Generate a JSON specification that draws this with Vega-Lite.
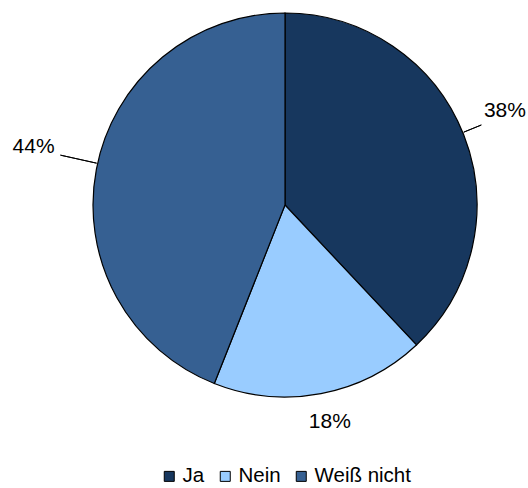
{
  "$schema": "https://vega.github.io/schema/vega-lite/v6.json",
  "width": 528,
  "height": 488,
  "autosize": "none",
  "padding": 0,
  "background": "white",
  "config": {"view": {"stroke": null}, "font": "Liberation Sans"},
  "data": {
    "values": [
      {"antwort": "Ja", "anteil": 38, "label": "38%"},
      {"antwort": "Nein", "anteil": 18, "label": "18%"},
      {"antwort": "Weiß nicht", "anteil": 44, "label": "44%"}
    ]
  },
  "layer": [
    {
      "mark": {"type": "arc", "x": 285, "y": 205, "outerRadius": 192, "stroke": "black", "strokeWidth": 1.2},
      "encoding": {
        "theta": {"field": "anteil", "type": "quantitative", "stack": true},
        "order": {"field": "antwort", "sort": "ascending"},
        "color": {
          "field": "antwort",
          "type": "nominal",
          "scale": {"domain": ["Ja", "Nein", "Weiß nicht"], "range": ["#17375e", "#99ccff", "#366092"]},
          "legend": {
            "title": null,
            "orient": "none",
            "direction": "horizontal",
            "legendX": 159,
            "legendY": 466,
            "padding": 0,
            "symbolType": "square",
            "symbolSize": 100,
            "symbolStrokeColor": "black",
            "symbolStrokeWidth": 1,
            "symbolOpacity": 1,
            "labelFont": "Liberation Sans",
            "labelFontSize": 20.5,
            "labelColor": "black",
            "labelOffset": 3,
            "columnPadding": 10,
            "encode": {"symbols": {"update": {"stroke": {"value": "black"}, "strokeWidth": {"value": 1}}}}
          }
        }
      }
    },
    {
      "transform": [
        {"window": [{"op": "sum", "field": "anteil", "as": "kumuliert"}], "sort": [{"field": "antwort"}]},
        {"calculate": "datum.kumuliert - datum.anteil / 2", "as": "mitte"},
        {"filter": "datum.antwort === 'Ja'"}
      ],
      "mark": {"type": "arc", "x": 285, "y": 205, "radius": 193, "radius2": 212, "thetaOffset": -0.01, "theta2Offset": -0.01, "stroke": "black", "strokeWidth": 1, "fill": null},
      "encoding": {
        "theta": {"field": "mitte", "type": "quantitative"},
        "theta2": {"field": "mitte"}
      }
    },
    {
      "transform": [
        {"window": [{"op": "sum", "field": "anteil", "as": "kumuliert"}], "sort": [{"field": "antwort"}]},
        {"calculate": "datum.kumuliert - datum.anteil / 2", "as": "mitte"},
        {"filter": "datum.antwort === 'Weiß nicht'"}
      ],
      "mark": {"type": "arc", "x": 285, "y": 205, "radius": 193, "radius2": 230, "thetaOffset": 0.03, "theta2Offset": 0.03, "stroke": "black", "strokeWidth": 1, "fill": null},
      "encoding": {
        "theta": {"field": "mitte", "type": "quantitative"},
        "theta2": {"field": "mitte"}
      }
    },
    {
      "mark": {"type": "text", "x": 285, "y": 205, "radius": 239, "thetaOffset": -0.025, "fontSize": 21, "font": "Liberation Sans", "color": "black"},
      "encoding": {
        "theta": {"field": "anteil", "type": "quantitative", "stack": true},
        "order": {"field": "antwort", "sort": "ascending"},
        "text": {"condition": {"test": "datum.antwort === 'Ja'", "field": "label"}, "value": ""}
      }
    },
    {
      "mark": {"type": "text", "x": 285, "y": 205, "radius": 222, "thetaOffset": -0.015, "fontSize": 21, "font": "Liberation Sans", "color": "black"},
      "encoding": {
        "theta": {"field": "anteil", "type": "quantitative", "stack": true},
        "order": {"field": "antwort", "sort": "ascending"},
        "text": {"condition": {"test": "datum.antwort === 'Nein'", "field": "label"}, "value": ""}
      }
    },
    {
      "mark": {"type": "text", "x": 285, "y": 205, "radius": 258, "thetaOffset": 0.038, "fontSize": 21, "font": "Liberation Sans", "color": "black"},
      "encoding": {
        "theta": {"field": "anteil", "type": "quantitative", "stack": true},
        "order": {"field": "antwort", "sort": "ascending"},
        "text": {"condition": {"test": "datum.antwort === 'Weiß nicht'", "field": "label"}, "value": ""}
      }
    }
  ]
}
